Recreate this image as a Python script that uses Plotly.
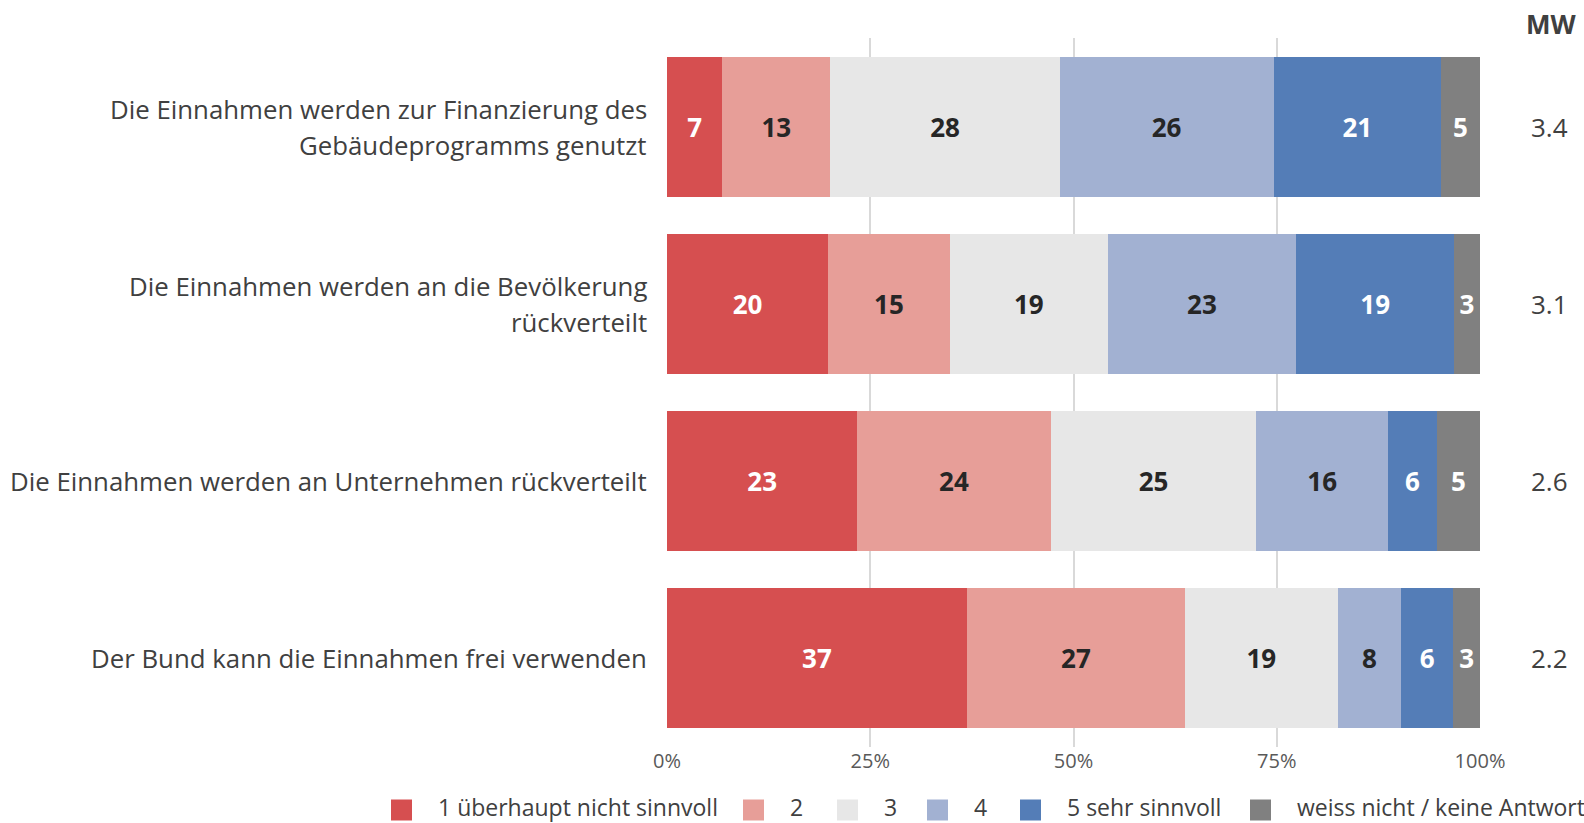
import plotly.graph_objects as go

# ---------------- data ----------------
categories = [
    "Die Einnahmen werden zur Finanzierung des<br>Gebäudeprogramms genutzt",
    "Die Einnahmen werden an die Bevölkerung<br>rückverteilt",
    "Die Einnahmen werden an Unternehmen rückverteilt",
    "Der Bund kann die Einnahmen frei verwenden",
]
series_names = ["1 überhaupt nicht sinnvoll", "2", "3", "4", "5 sehr sinnvoll",
                "weiss nicht / keine Antwort"]
s1 = [6.8, 19.8, 23.4, 36.9]
s2 = [13.3, 15.0, 23.8, 26.8]
s3 = [28.2, 19.4, 25.3, 18.8]
s4 = [26.3, 23.2, 16.2, 7.8]
s5 = [20.6, 19.4, 6.0, 6.4]
s6 = [4.8, 3.2, 5.3, 3.3]
mw = [3.4, 3.1, 2.6, 2.2]
tick_vals = [0, 25, 50, 75, 100]
tick_text = ["0%", "25%", "50%", "75%", "100%"]

# ---------------- style ----------------
colors = ["#D64F50", "#E79E98", "#E7E7E7", "#A2B1D2", "#547DB7", "#808080"]
text_colors = ["#FFFFFF", "#262626", "#262626", "#262626", "#FFFFFF", "#FFFFFF"]
FONT = "Open Sans"
W, H = 1584, 823
ML, MR, MT, MB = 667, 104, 38, 76
PW, PH = W - ML - MR, H - MT - MB

def px_x(px):
    return (px - ML) / PW

def px_y(py):
    return (H - MB - py) / PH

fig = go.Figure()
series = [s1, s2, s3, s4, s5, s6]
for name, vals, col, tcol in zip(series_names, series, colors, text_colors):
    fig.add_trace(go.Bar(
        y=categories, x=vals, name=name, orientation="h",
        marker=dict(color=col, line=dict(width=0)),
        text=vals, texttemplate="%{x:.0f}", textposition="inside",
        insidetextanchor="middle", textangle=0, constraintext="none",
        textfont=dict(family=FONT, size=26, color=tcol, weight="bold"),
        showlegend=False, width=0.79, hoverinfo="skip",
    ))

annotations = []
# category labels (one annotation per line)
line_gap = 36
for cat in categories:
    lines = cat.split("<br>")
    n = len(lines)
    for i, ln in enumerate(lines):
        shift = ((n - 1) / 2 - i) * line_gap
        annotations.append(dict(
            xref="paper", yref="y", x=0, y=cat, xshift=-18, yshift=shift,
            text=ln, showarrow=False, xanchor="right", yanchor="middle",
            font=dict(family=FONT, size=25.8, color="#404040")))

# MW column
for cat, v in zip(categories, mw):
    annotations.append(dict(
        xref="paper", yref="y", x=px_x(1549), y=cat, text=f"{v:.1f}",
        showarrow=False, xanchor="center", yanchor="middle",
        font=dict(family=FONT, size=26, color="#404040")))
annotations.append(dict(
    xref="paper", yref="paper", x=px_x(1551), y=px_y(24), text="<b>MW</b>",
    showarrow=False, xanchor="center", yanchor="middle",
    font=dict(family=FONT, size=26, color="#404040")))

# manual legend
shapes = []
legend_marker_left = [391, 743, 837, 927, 1020, 1250]
msize = 21
ly = 810
ty = 807
for name, col, mx in zip(series_names, colors, legend_marker_left):
    shapes.append(dict(
        type="rect", xref="paper", yref="paper",
        x0=px_x(mx), x1=px_x(mx + msize),
        y0=px_y(ly + msize / 2), y1=px_y(ly - msize / 2),
        fillcolor=col, line=dict(width=0)))
    annotations.append(dict(
        xref="paper", yref="paper", x=px_x(mx + msize + 24), y=px_y(ty),
        text=name, showarrow=False, xanchor="left", yanchor="middle",
        font=dict(family=FONT, size=23, color="#404040")))

fig.update_layout(
    width=W, height=H,
    margin=dict(l=ML, r=MR, t=MT, b=MB, pad=0),
    barmode="stack", bargap=0.21,
    paper_bgcolor="white", plot_bgcolor="white",
    font=dict(family=FONT, color="#404040"),
    xaxis=dict(range=[0, 100], tickvals=tick_vals, ticktext=tick_text,
               showgrid=True, gridcolor="#D9D9D9", gridwidth=1.5,
               zeroline=False, showline=False, ticks="",
               tickfont=dict(family=FONT, size=20, color="#595959"),
               fixedrange=True),
    yaxis=dict(categoryorder="array", categoryarray=categories,
               autorange="reversed", showticklabels=False, showgrid=False,
               zeroline=False, showline=False, ticks="", fixedrange=True),
    annotations=annotations, shapes=shapes,
    showlegend=False,
)

fig.write_html(
    "out.html",
    config={"displayModeBar": False},
    post_script="document.body.style.margin='0';document.body.style.overflow='hidden';",
)
